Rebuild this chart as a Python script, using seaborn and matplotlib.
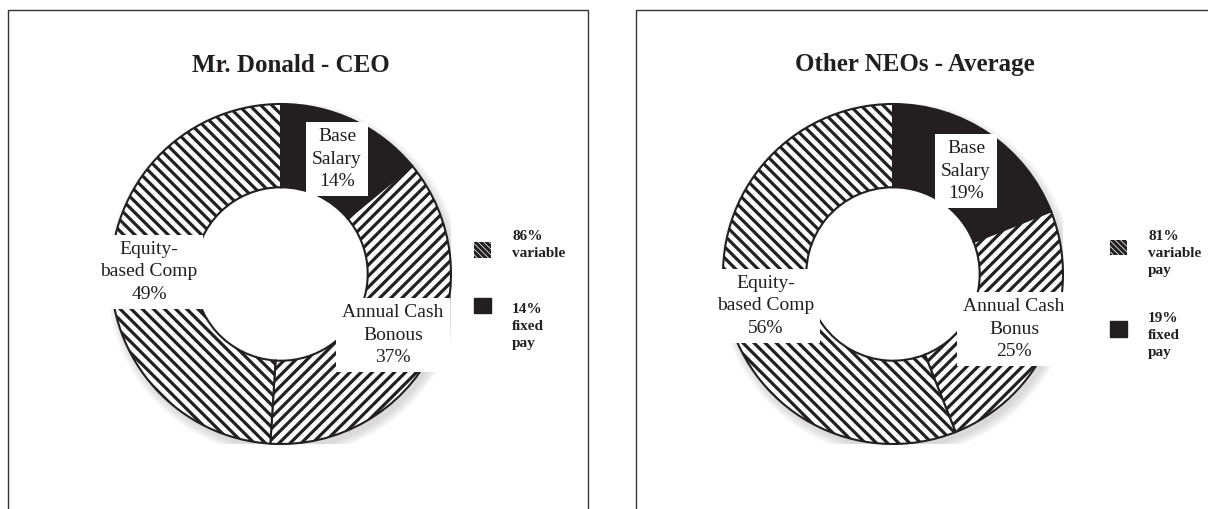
import matplotlib
matplotlib.use("Agg")
import matplotlib.pyplot as plt
import seaborn as sns
from matplotlib.patches import Patch, Circle, Rectangle
from matplotlib.legend_handler import HandlerPatch

# ------ DATA ------
components = ["Base Salary", "Annual Cash Bonus", "Equity-based Comp"]
ceo_pct = [14, 37, 49]
neo_pct = [19, 25, 56]
ceo_labels = ["Base\nSalary\n14%", "Annual Cash\nBonous\n37%", "Equity-\nbased Comp\n49%"]
neo_labels = ["Base\nSalary\n19%", "Annual Cash\nBonus\n25%", "Equity-\nbased Comp\n56%"]
ceo_legend = ["86%\nvariable", "14%\nfixed\npay"]
neo_legend = ["81%\nvariable\npay", "19%\nfixed\npay"]
titles = ["Mr. Donald - CEO", "Other NEOs - Average"]

# ------ STYLE ------
sns.set_style("white")
plt.rcParams["font.family"] = ["Liberation Serif", "DejaVu Serif"]
plt.rcParams["hatch.linewidth"] = 2.3
INK = "#231f20"

W, H = 1208, 509
fig = plt.figure(figsize=(W / 100, H / 100), dpi=100)

# panel frames
fig.patches.append(Rectangle((8 / W, -0.05), 580 / W, 1.05 - 10 / H, transform=fig.transFigure,
                             fill=False, edgecolor="#333333", lw=1.0))
fig.patches.append(Rectangle((636 / W, -0.05), 600 / W, 1.05 - 10 / H, transform=fig.transFigure,
                             fill=False, edgecolor="#333333", lw=1.0))


def shifted_box(shift_px):
    # legend swatch moved up/down inside its entry
    def make(legend, orig_handle, xdescent, ydescent, width, height, fontsize):
        return Rectangle((-xdescent, -ydescent + shift_px * 0.72), width, height)
    return HandlerPatch(patch_func=make)


R = 170
panels = [
    dict(cx=281, cy=274, pct=ceo_pct, labels=ceo_labels, legend=ceo_legend, title=titles[0],
         title_x=291, label_pos=[(337, 159), (393, 335), (149, 272)],
         leg_xy=(474, 230), leg_sp=2.8, shifts=(-5, 21)),
    dict(cx=893, cy=274, pct=neo_pct, labels=neo_labels, legend=neo_legend, title=titles[1],
         title_x=915, label_pos=[(966, 171), (1014, 329), (766, 306)],
         leg_xy=(1110, 230), leg_sp=2.25, shifts=(6, 6)),
]

hatches = [None, "///", "\\\\\\"]
colors = [INK, "white", "white"]

for p in panels:
    cx, cy = p["cx"], p["cy"]
    ax = fig.add_axes([(cx - R) / W, 1 - (cy + R) / H, 2 * R / W, 2 * R / H])

    # soft shadow under the ring
    for i in range(7):
        ax.add_patch(Circle((0.02, -0.03), 1.0 + 0.008 * i, color="#9a9a9a",
                            alpha=0.06, lw=0, zorder=0))

    wedges, _ = ax.pie(p["pct"], startangle=90, counterclock=False, colors=colors,
                       wedgeprops=dict(width=0.49, edgecolor=INK, linewidth=1.5))
    for w, h in zip(wedges, hatches):
        if h:
            w.set_hatch(h)
    ax.add_patch(Circle((0, 0), 0.51, color="white", zorder=0.5))

    ax.set_xlim(-1, 1)
    ax.set_ylim(-1, 1)
    ax.axis("off")

    for txt, (px, py) in zip(p["labels"], p["label_pos"]):
        ax.text((px - cx) / R, (cy - py) / R, txt, ha="center", va="center",
                fontsize=14, color=INK, linespacing=1.42, zorder=5,
                bbox=dict(boxstyle="square,pad=0.3", fc="white", ec="none"))

    fig.text(p["title_x"] / W, 1 - 65 / H, p["title"], ha="center", va="center",
             fontsize=18, fontweight="bold", color=INK)

    h_var = Patch(facecolor="white", edgecolor=INK, hatch="\\\\\\\\\\\\", lw=0)
    h_fix = Patch(facecolor=INK, edgecolor=INK)
    leg = fig.legend([h_var, h_fix], p["legend"], loc="upper left",
                     bbox_to_anchor=(p["leg_xy"][0] / W, 1 - p["leg_xy"][1] / H),
                     frameon=False, prop=dict(size=11, weight="bold"),
                     handlelength=1.1, handleheight=1.2, handletextpad=1.4,
                     labelspacing=p["leg_sp"], borderpad=0, borderaxespad=0,
                     handler_map={h_var: shifted_box(p["shifts"][0]),
                                  h_fix: shifted_box(p["shifts"][1])})
    for t in leg.get_texts():
        t.set_linespacing(1.42)
        t.set_color(INK)

fig.savefig("out.png", dpi=100, facecolor="white")
